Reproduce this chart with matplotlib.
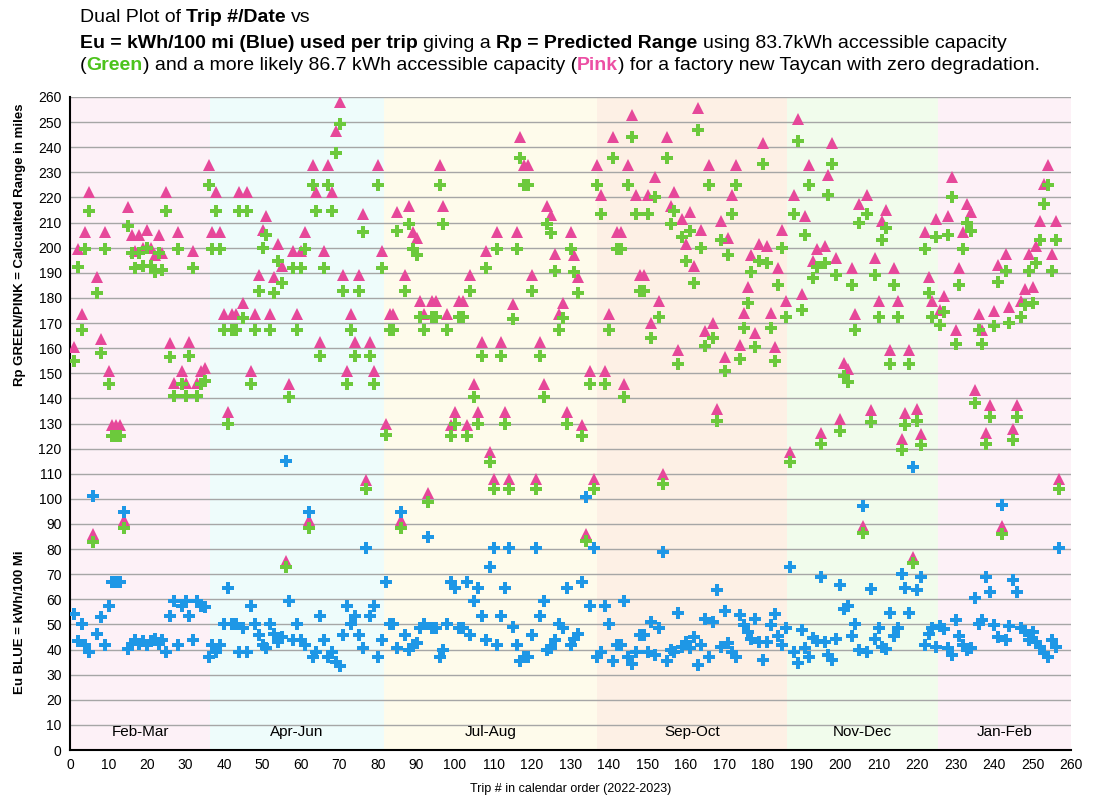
import numpy as np
import matplotlib
matplotlib.use("Agg")
import matplotlib.pyplot as plt

plt.rcParams['font.family'] = ['Liberation Sans', 'DejaVu Sans']

eu = [54, 43.5, 50, 42, 39, 101, 46, 53, 42, 57.5,
      67, 67, 67, 94.8, 40.1, 42.3, 43.6, 42.3, 43.4, 41.9,
      43.4, 44, 42.3, 43.8, 39, 53.5, 59.4, 42, 57.5, 59.4,
      53.4, 43.6, 59.4, 57.5, 57, 37.2, 42, 39, 42, 50,
      64.4, 50, 50, 39, 48.7, 39, 57.4, 50, 45.8, 41.9,
      40.8, 50, 46, 43, 45, 115, 59.5, 43.6, 50, 43.6,
      42, 94.8, 37.2, 39, 53.4, 43.6, 37.2, 39, 35.2, 33.6,
      45.8, 57.5, 50, 53.4, 45.8, 40.6, 80.5, 53.4, 57.5, 37.2,
      43.6, 66.8, 50, 50, 40.5, 94.8, 45.8, 40, 42, 42.5,
      48.5, 50, 84.7, 48.5, 48.5, 37.2, 40, 50, 67, 64.4,
      48.5, 48.5, 67, 45.8, 59.5, 64.4, 53.4, 43.6, 73, 80.4,
      42, 53.4, 64.4, 80.4, 48.8, 42, 35.5, 37.2, 37.2, 45.8,
      80.4, 53.4, 59.5, 40, 40.7, 43.9, 50, 48.7, 64.4, 42,
      44, 46, 67, 100.6, 57.5, 80.4, 37.2, 39.2, 57.5, 50,
      35.5, 42, 42, 59.5, 37.2, 34.3, 39.2, 45.8, 45.8, 39.2,
      51, 38, 48.5, 79, 35.5, 40, 39, 54.5, 41, 43,
      40.5, 45, 33.9, 41.9, 52, 37.2, 51, 63.8, 41.2, 55.4,
      42.5, 39.2, 37.2, 53.8, 49.8, 47, 44, 52.2, 43, 35.9,
      43.2, 49.8, 54, 45.2, 41.9, 48.5, 73, 39.2, 34.5, 47.8,
      40.8, 37.2, 44.5, 43.5, 68.7, 43.2, 37.9, 35.9, 44.3, 65.8,
      56.2, 57.2, 45.2, 50, 39.9, 97, 39.2, 64, 44.3, 48.5,
      41.2, 40.3, 54.5, 45.2, 48.5, 70, 64.7, 54.5, 112.6, 63.8,
      69, 42, 46, 48.5, 41, 49.5, 48, 40.8, 38, 51.8,
      45.2, 42, 39.9, 40.5, 60.5, 50, 51.8, 68.7, 63.1, 49.6,
      44.9, 97.4, 43.9, 49.2, 67.8, 63.1, 48.5, 47.2, 43.9, 47,
      43.2, 41.2, 38.5, 37.2, 43.9, 41.2, 80.4]
trips = np.arange(1, len(eu) + 1)

# predicted range from the two accessible capacities named in the title
cap_green = 83.7
cap_pink = 86.7
eu_arr = np.array(eu)
rp_green = cap_green / eu_arr * 100
rp_pink = cap_pink / eu_arr * 100

periods = ["Feb-Mar", "Apr-Jun", "Jul-Aug", "Sep-Oct", "Nov-Dec", "Jan-Feb"]
period_edges = [0, 36.4, 81.6, 136.8, 186.3, 225.5, 260]
period_colors = ["#fdf1f7", "#eefcfb", "#fefbeb", "#fdf0e5", "#f1fcec", "#fdf1f7"]

fig = plt.figure(figsize=(11.1, 8.01), dpi=100)
W, H = 1110, 801
ax = fig.add_axes([70 / W, 51 / H, 1001 / W, 653 / H])

for i, name in enumerate(periods):
    a, b = period_edges[i], period_edges[i + 1]
    ax.axvspan(a, b, color=period_colors[i], zorder=0, lw=0)
    ax.text((a + b) / 2, 7, name, ha='center', va='center', fontsize=11, zorder=1)

ax.set_xlim(0, 260)
ax.set_ylim(0, 260)
ax.set_yticks(np.arange(0, 261, 10))
ax.set_xticks(np.arange(0, 261, 10))
ax.tick_params(length=0, labelsize=10, pad=6)
ax.grid(axis='y', color='#a6a6a6', lw=1, zorder=1)
ax.set_axisbelow(True)
for s in ['top', 'right']:
    ax.spines[s].set_visible(False)
ax.spines['left'].set_linewidth(1.5)
ax.spines['bottom'].set_linewidth(1.5)

ax.plot(trips, rp_pink, ls='none', marker='^', ms=8.5, mew=0, color='#e6489a', zorder=3)
ax.plot(trips, rp_green, ls='none', marker='P', ms=8, mew=0, color='#6cc93c', zorder=4)
ax.plot(trips, eu_arr, ls='none', marker='P', ms=8, mew=0, color='#1e97e6', zorder=5)

ax.set_xlabel("Trip # in calendar order (2022-2023)", fontsize=9, labelpad=8)
fig.text(20 / W, 1 - 245 / H, "Rp GREEN/PINK = Calcualted Range in miles",
         rotation=90, ha='center', va='center', fontsize=9.5, fontweight='bold')
fig.text(20 / W, 1 - 622 / H, "Eu BLUE = kWh/100 Mi",
         rotation=90, ha='center', va='center', fontsize=9.5, fontweight='bold')

# title with mixed weights, laid out piece by piece
renderer = fig.canvas.get_renderer()

def text_w(s, size, bold):
    t = fig.text(0, 0, s, fontsize=size, fontweight='bold' if bold else 'normal')
    w = t.get_window_extent(renderer).width
    t.remove()
    return w

lines = [
    [("Dual Plot of ", False, 'black'), ("Trip #/Date", True, 'black'), (" vs", False, 'black')],
    [("Eu = kWh/100 mi (Blue) used per trip", True, 'black'), (" giving a ", False, 'black'),
     ("Rp = Predicted Range", True, 'black'), (" using 83.7kWh accessible capacity", False, 'black')],
    [("(", False, 'black'), ("Green", True, '#4cc31c'),
     (") and a more likely 86.7 kWh accessible capacity (", False, 'black'),
     ("Pink", True, '#ec4fa4'), (") for a factory new Taycan with zero degradation.", False, 'black')],
]

def line_width(parts, size):
    total = 0
    for s, bold, _ in parts:
        sw = text_w("a a", size, bold) - text_w("aa", size, bold)
        core = s.strip()
        nsp = len(s) - len(s.lstrip()) + len(s) - len(s.rstrip())
        total += text_w(core, size, bold) + nsp * sw
    return total

size = 13
size = size * 955 / line_width(lines[2], size)

y_px = [18, 43, 66]
for parts, yp in zip(lines, y_px):
    x = 80
    for s, bold, col in parts:
        sw = text_w("a a", size, bold) - text_w("aa", size, bold)
        lead = len(s) - len(s.lstrip())
        trail = len(s) - len(s.rstrip())
        core = s.strip()
        x += lead * sw
        fig.text(x / W, 1 - yp / H, core, fontsize=size,
                 fontweight='bold' if bold else 'normal', color=col,
                 ha='left', va='center')
        x += text_w(core, size, bold) + trail * sw

fig.savefig("out.png", dpi=100)
